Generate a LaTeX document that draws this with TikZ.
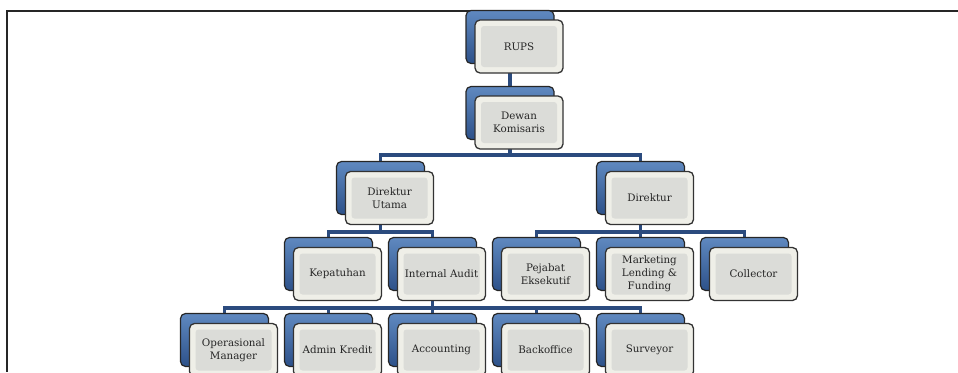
\documentclass[tikz,border=0pt]{standalone}
\usepackage{fontspec}
\setmainfont{DejaVu Serif}
\usetikzlibrary{calc,backgrounds}
\definecolor{blueA}{HTML}{5F89C0}
\definecolor{blueB}{HTML}{2D5189}
\definecolor{conncol}{HTML}{2B4B7E}
\definecolor{frontout}{HTML}{EFEFE8}
\definecolor{frontin}{HTML}{DBDCD8}
\definecolor{txtcol}{HTML}{262626}
\tikzset{
  backbox/.style={draw=black!85, line width=1.2pt, rounded corners=5pt,
    minimum width=88pt, minimum height=53pt, top color=blueA, bottom color=blueB, inner sep=0pt},
  frontbox/.style={draw=black!80, line width=1.3pt, rounded corners=5pt, fill=frontout,
    minimum width=88pt, minimum height=53pt, align=center, inner sep=1pt,
    font=\fontsize{10.3}{12.8}\selectfont, text=txtcol,
    path picture={\fill[frontin, rounded corners=3pt]
      ($(path picture bounding box.south west)+(6pt,6pt)$) rectangle
      ($(path picture bounding box.north east)+(-6pt,-6pt)$);}},
  conn/.style={draw=conncol, line width=3.2pt},
  frame/.style={draw=black!85, line width=1.4pt}
}
\begin{document}
\begin{tikzpicture}[x=1pt,y=-1pt]
\useasboundingbox (0,0) rectangle (958,372);
\begin{scope}
\clip (0,0) rectangle (958,372);
\coordinate (fa) at (958,11);
\coordinate (fb) at (7,11);
\coordinate (fc) at (7,372);
\draw[frame] (fa) -- (fb) -- (fc);
% level 1-2
\node[backbox] (rupsb) at (510,37) {};
\node[frontbox] (rups) at (519,46.5) {RUPS};
\node[backbox] (dkb) at (510,113) {};
\node[frontbox] (dk) at (519,122.5) {Dewan\\Komisaris};
% level 3
\node[backbox] (dub) at (380.5,188) {};
\node[frontbox] (du) at (389.5,198) {Direktur\\Utama};
\node[backbox] (dirb) at (640.5,188) {};
\node[frontbox] (dir) at (649.5,198) {Direktur};
% level 4
\node[backbox] (kepb) at (328.5,264) {};
\node[frontbox] (kep) at (337.5,274) {Kepatuhan};
\node[backbox] (iab) at (432.5,264) {};
\node[frontbox] (ia) at (441.5,274) {Internal Audit};
\node[backbox] (peb) at (536.5,264) {};
\node[frontbox] (pe) at (545.5,274) {Pejabat\\Eksekutif};
\node[backbox] (mkb) at (640.5,264) {};
\node[frontbox] (mk) at (649.5,274) {Marketing\\Lending \&\\Funding};
\node[backbox] (colb) at (744.5,264) {};
\node[frontbox] (col) at (753.5,274) {Collector};
% level 5
\node[backbox] (omb) at (224.5,340) {};
\node[frontbox] (om) at (233.5,350) {Operasional\\Manager};
\node[backbox] (akb) at (328.5,340) {};
\node[frontbox] (ak) at (337.5,350) {Admin Kredit};
\node[backbox] (acb) at (432.5,340) {};
\node[frontbox] (ac) at (441.5,350) {Accounting};
\node[backbox] (bob) at (536.5,340) {};
\node[frontbox] (bo) at (545.5,350) {Backoffice};
\node[backbox] (svb) at (640.5,340) {};
\node[frontbox] (sv) at (649.5,350) {Surveyor};
% connectors
\coordinate (bus1) at (0,155);
\coordinate (bus2) at (0,232);
\coordinate (bus3) at (0,308);
\begin{pgfonlayer}{background}
\draw[conn] (rupsb.center) -- (dkb.center);
\draw[conn] (dkb.center) -- (dkb |- bus1);
\draw[conn] (dub.center) |- (bus1 -| dkb) -| (dirb.center);
\draw[conn] (dub.center) -- (dub |- bus2);
\draw[conn] (kepb.center) |- (bus2 -| dub) -| (iab.center);
\draw[conn] (dirb.center) -- (dirb |- bus2);
\draw[conn] (peb.center) |- (bus2 -| dirb) -| (colb.center);
\draw[conn] (mkb.center) -- (mkb |- bus2);
\draw[conn] (iab.center) -- (iab |- bus3);
\draw[conn] (omb.center) |- (bus3 -| iab) -| (svb.center);
\draw[conn] (akb.center) -- (akb |- bus3);
\draw[conn] (acb.center) -- (acb |- bus3);
\draw[conn] (bob.center) -- (bob |- bus3);
\end{pgfonlayer}
\end{scope}
\end{tikzpicture}
\end{document}
